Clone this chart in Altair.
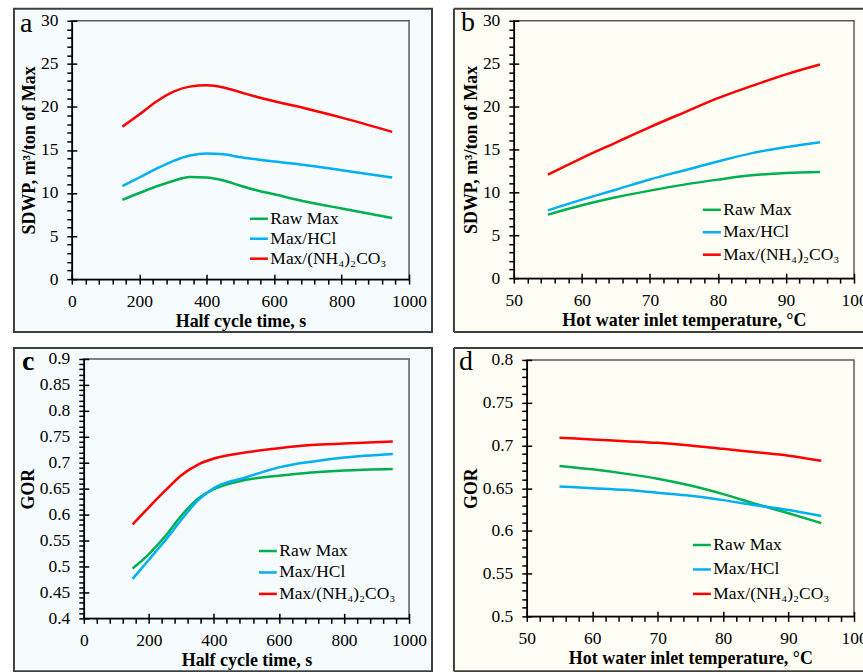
import altair as alt
import pandas as pd

FONT = "Liberation Serif, Times New Roman, serif"
SERIES = ["Raw Max", "Max/HCl", "Max/(NH₄)₂CO₃"]
COLORS = ["#00B050", "#00B0F0", "#FF0000"]

# ---- panel a: SDWP vs half cycle time
a_x = [150, 200, 250, 300, 350, 400, 450, 500, 550, 600, 700, 800, 950]
a_raw = [9.2, 10.0, 10.75, 11.4, 11.85, 11.8, 11.45, 10.85, 10.3, 9.85, 8.95, 8.2, 7.1]
a_hcl = [10.8, 11.8, 12.8, 13.7, 14.35, 14.6, 14.5, 14.15, 13.9, 13.65, 13.2, 12.65, 11.8]
a_nh4 = [17.7, 19.1, 20.6, 21.75, 22.35, 22.5, 22.25, 21.7, 21.15, 20.65, 19.75, 18.75, 17.1]

# ---- panel b: SDWP vs hot water inlet temperature
b_x = [55, 60, 65, 70, 75, 80, 85, 90, 95]
b_raw = [7.4, 8.49, 9.42, 10.2, 10.9, 11.48, 11.98, 12.25, 12.36]
b_hcl = [7.9, 9.15, 10.3, 11.5, 12.55, 13.6, 14.57, 15.27, 15.85]
b_nh4 = [12.06, 14.0, 15.8, 17.6, 19.3, 20.97, 22.4, 23.75, 24.9]

# ---- panel c: GOR vs half cycle time
c_x = [150, 200, 250, 300, 350, 400, 500, 600, 700, 800, 950]
c_raw = [0.496, 0.524, 0.558, 0.598, 0.630, 0.649, 0.667, 0.675, 0.681, 0.685, 0.688]
c_hcl = [0.476, 0.513, 0.550, 0.590, 0.627, 0.651, 0.672, 0.691, 0.702, 0.710, 0.717]
c_nh4 = [0.581, 0.614, 0.646, 0.676, 0.696, 0.708, 0.720, 0.728, 0.734, 0.737, 0.741]

# ---- panel d: GOR vs hot water inlet temperature
d_x = [55, 60, 65, 70, 75, 80, 85, 90, 95]
d_raw = [0.676, 0.672, 0.667, 0.661, 0.653, 0.643, 0.6315, 0.6206, 0.609]
d_hcl = [0.652, 0.650, 0.648, 0.6445, 0.641, 0.636, 0.630, 0.6245, 0.6175]
d_nh4 = [0.709, 0.707, 0.705, 0.703, 0.700, 0.696, 0.692, 0.688, 0.682]

# ---- tick values
time_major = [0, 200, 400, 600, 800, 1000]
time_minor = [v for v in range(0, 1001, 40) if v not in time_major]
temp_major = [50, 60, 70, 80, 90, 100]
temp_minor = [v for v in range(50, 101, 2) if v not in temp_major]
sdwp_major = [0, 5, 10, 15, 20, 25, 30]
sdwp_minor = [v for v in range(0, 31) if v not in sdwp_major]
gor_c_major = [round(0.4 + 0.05 * i, 2) for i in range(11)]
gor_c_minor = [round(0.4 + 0.01 * i, 2) for i in range(51) if i % 5]
gor_d_major = [round(0.5 + 0.05 * i, 2) for i in range(7)]
gor_d_minor = [round(0.5 + 0.01 * i, 2) for i in range(31) if i % 5]

XT_TIME = "Half cycle time, s"
XT_TEMP = "Hot water inlet temperature, °C"
YT_SDWP = "SDWP, m³/ton of Max"
YT_GOR = "GOR"

BG_BLUE = "#F6FBFD"
BG_CREAM = "#FFFEF4"
BORDER = "#3F3F3F"


def long_df(xs, cols):
    rows = []
    for name, ys in zip(SERIES, cols):
        for x, y in zip(xs, ys):
            rows.append({"x": x, "y": y, "series": name})
    return pd.DataFrame(rows)


def axis_main(orient, values, title, fmt, offset, label_pad=8, title_pad=3):
    return alt.Axis(
        orient=orient, values=values, title=title, grid=False, format=fmt,
        offset=offset,
        labelFont=FONT, labelFontSize=17.5, labelColor="black", labelFontWeight="normal",
        labelPadding=label_pad, labelFlush=False, labelOverlap=False,
        tickSize=5, tickWidth=1.5, tickColor="black",
        domainColor="black", domainWidth=1.5,
        titleFont=FONT, titleFontSize=18, titleFontWeight="bold",
        titleColor="black", titlePadding=title_pad, zindex=2,
    )


def axis_ticks(orient, values, offset, size):
    return alt.Axis(orient=orient, values=values, title=None, labels=False,
                    domain=False, grid=False, offset=offset, tickSize=size,
                    tickWidth=1.5, tickColor="black", zindex=2)


def panel(df, letter, letter_bold, xdom, xmaj, xmin, ydom, ymaj, ymin, yfmt,
          xtitle, ytitle, W, H, x0, y0, box, bg, open_right, leg, letter_pos):
    """W, H: group size; x0: left inset of the plot area, y0: top inset."""
    L, T, R, B = box
    one = pd.DataFrame({"k": [0]})
    xs = alt.Scale(domain=xdom, nice=False, zero=False, range=[x0, W])
    ys = alt.Scale(domain=ydom, nice=False, zero=False, range=[H, y0])
    layers = []
    if open_right:
        layers.append(alt.Chart(one).mark_rect(fill=bg, strokeWidth=0).encode(
            x=alt.value(-L), x2=alt.value(W + R), y=alt.value(-T), y2=alt.value(H + B)))
        layers.append(alt.Chart(one).mark_rule(color=BORDER, strokeWidth=2).encode(
            x=alt.value(-L), y=alt.value(-T), y2=alt.value(H + B)))
        layers.append(alt.Chart(one).mark_rule(color=BORDER, strokeWidth=2).encode(
            x=alt.value(-L), x2=alt.value(W + R), y=alt.value(-T)))
        layers.append(alt.Chart(one).mark_rule(color=BORDER, strokeWidth=2).encode(
            x=alt.value(-L), x2=alt.value(W + R), y=alt.value(H + B)))
    else:
        layers.append(alt.Chart(one).mark_rect(fill=bg, stroke=BORDER, strokeWidth=2).encode(
            x=alt.value(-L), x2=alt.value(W + R), y=alt.value(-T), y2=alt.value(H + B)))
    # plot-area frame
    layers.append(alt.Chart(one).mark_rect(fill="transparent", stroke="#5A5A5A", strokeWidth=1.5).encode(
        x=alt.value(x0), x2=alt.value(W), y=alt.value(y0), y2=alt.value(H)))
    # panel letter
    layers.append(alt.Chart(one).mark_text(
        text=letter, font=FONT, fontSize=28, align="left", baseline="alphabetic",
        fontWeight="bold" if letter_bold else "normal", color="black").encode(
        x=alt.value(letter_pos[0]), y=alt.value(letter_pos[1])))
    lx, ly, rp = leg
    layers.append(alt.Chart(df).mark_line(strokeWidth=2.5, interpolate="monotone").encode(
        x=alt.X("x:Q", scale=xs, axis=axis_main("bottom", xmaj, xtitle, "d", 0)),
        y=alt.Y("y:Q", scale=ys, axis=axis_main("left", ymaj, ytitle, yfmt, -x0, label_pad=9, title_pad=2)),
        color=alt.Color("series:N", scale=alt.Scale(domain=SERIES, range=COLORS),
                        legend=alt.Legend(orient="none", legendX=lx, legendY=ly, title=None,
                                          symbolType="stroke", symbolSize=324,
                                          symbolStrokeWidth=2.5, labelFont=FONT,
                                          labelFontSize=17.5, labelColor="black",
                                          labelFontWeight="normal",
                                          labelOffset=1, rowPadding=rp, padding=0,
                                          zindex=2)),
    ))
    # inner half of crossing major ticks
    layers.append(alt.Chart(df).mark_line(opacity=0).encode(
        x=alt.X("x:Q", scale=xs, axis=axis_ticks("bottom", xmaj, -5, 5)),
        y=alt.Y("y:Q", scale=ys, axis=axis_ticks("left", ymaj, -x0 - 5, 5)),
    ))
    # minor ticks (outside)
    layers.append(alt.Chart(df).mark_line(opacity=0).encode(
        x=alt.X("x:Q", scale=xs, axis=axis_ticks("bottom", xmin, 0, 5)),
        y=alt.Y("y:Q", scale=ys, axis=axis_ticks("left", ymin, -x0, 5)),
    ))
    return alt.layer(*layers).resolve_axis(x="independent", y="independent").properties(width=W, height=H)


# group origins: a/c at x=71, b/d at x=514; rows at y=19 and y=358
pa = panel(long_df(a_x, [a_raw, a_hcl, a_nh4]), "a", False, [0, 1000], time_major, time_minor,
           [0, 30], sdwp_major, sdwp_minor, "d", XT_TIME, YT_SDWP,
           338, 259, 0, 0, (58, 12, 23, 53), BG_BLUE, False, (177, 188, 1), (-52, 11))
pb = panel(long_df(b_x, [b_raw, b_hcl, b_nh4]), "b", False, [50, 100], temp_major, temp_minor,
           [0, 30], sdwp_major, sdwp_minor, "d", XT_TEMP, YT_SDWP,
           341, 258, 0, 0, (60, 12, 25, 54), BG_CREAM, True, (188, 179, 3.5), (-53, 10))
pc = panel(long_df(c_x, [c_raw, c_hcl, c_nh4]), "c", True, [0, 1000], time_major, time_minor,
           [0.4, 0.9], gor_c_major, gor_c_minor, ".2~f", XT_TIME, YT_GOR,
           338, 260, 12, 0, (58, 11, 23, 53), BG_BLUE, False, (186, 182, 2.5), (-50, 11))
pd_ = panel(long_df(d_x, [d_raw, d_hcl, d_nh4]), "d", False, [50, 100], temp_major, temp_minor,
            [0.5, 0.8], gor_d_major, gor_d_minor, ".2~f", XT_TEMP, YT_GOR,
            341, 258, 13, 1, (60, 11, 25, 55), BG_CREAM, True, (178, 176, 5.5), (-55, 11))

chart = alt.ConcatChart(
    concat=[pa, pb, pc, pd_], columns=2, align="none", bounds="flush",
    spacing={"row": 80, "column": 105},
).resolve_scale(color="independent", x="independent", y="independent").resolve_legend(
    color="independent").properties(
    padding={"left": 12, "top": 6, "right": -18, "bottom": 0},
    background="white",
).configure(font=FONT).configure_view(stroke="transparent")

chart.save("out.html", embed_options={"renderer": "svg", "actions": False})
